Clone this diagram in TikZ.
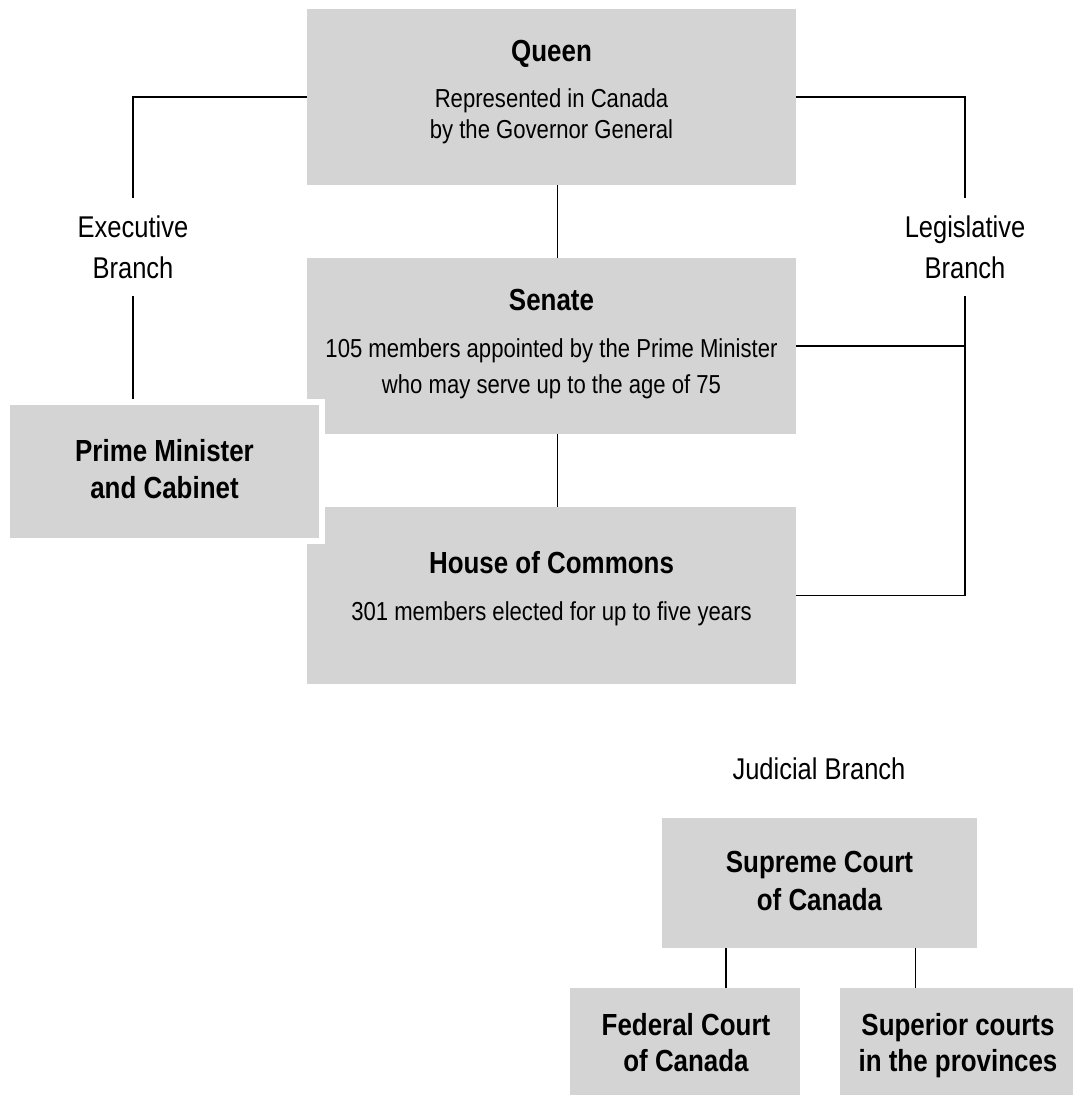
\documentclass[tikz,border=0pt]{standalone}
\usepackage{fontspec}
\setmainfont{Liberation Sans}
\newfontfamily\subfamily[FakeStretch=0.85]{Liberation Sans}
\newfontfamily\titlefamily[FakeStretch=0.85]{Liberation Sans}
\newfontfamily\labfamily[FakeStretch=0.85]{Liberation Sans}
\definecolor{boxgray}{RGB}{212,212,212}
\begin{document}
\begin{tikzpicture}[x=1pt,y=-1pt,
  box/.style={fill=boxgray, draw=none, inner sep=0, outer sep=0},
  subtxt/.style={font=\subfamily\fontsize{26}{30}\selectfont, anchor=base, inner sep=0},
  ttl/.style={font=\titlefamily\bfseries\fontsize{30.5}{35}\selectfont, anchor=base, inner sep=0},
  lab/.style={font=\labfamily\fontsize{30}{41}\selectfont, align=center, inner xsep=0, inner ysep=16.8pt},
  labone/.style={font=\labfamily\fontsize{30}{41}\selectfont, anchor=base, inner sep=0},
  conn/.style={draw=black, line width=1.3pt}
]
\useasboundingbox (0,0) rectangle (1073,1095);

% boxes
\node[box, minimum width=489pt, minimum height=176pt] (queen) at (551.5,97) {};
\node[box, minimum width=489pt, minimum height=176pt] (senate) at (551.5,346) {};
\node[box, minimum width=489pt, minimum height=177pt] (house) at (551.5,595.5) {};
\node[fill=boxgray, draw=white, line width=6pt, inner sep=0, minimum width=315pt, minimum height=139pt] (pm) at (164.5,471.5) {};
\node[box, minimum width=315pt, minimum height=130pt] (supreme) at (819.5,883) {};
\node[box, minimum width=230pt, minimum height=108pt] (federal) at (685,1042) {};
\node[box, minimum width=233pt, minimum height=108pt] (superior) at (956.5,1042) {};

% texts
\node[ttl] (qt) at (551.5,61) {Queen};
\node[subtxt] (qs1) at (551.5,107) {Represented in Canada};
\node[subtxt] (qs2) at (551.5,138) {by the Governor General};
\node[ttl] (st) at (551.5,310) {Senate};
\node[subtxt] (ss1) at (551.5,357) {105 members appointed by the Prime Minister};
\node[subtxt] (ss2) at (551.5,393) {who may serve up to the age of 75};
\node[ttl] (ht) at (551.5,573) {House of Commons};
\node[subtxt] (hs) at (551.5,620) {301 members elected for up to five years};
\node[ttl] (pt1) at (164.5,461.5) {Prime Minister};
\node[ttl] (pt2) at (164.5,498) {and Cabinet};
\node[labone] (jud) at (819,779) {Judicial Branch};
\node[ttl] (sc1) at (819.5,872) {Supreme Court};
\node[ttl] (sc2) at (819.5,910) {of Canada};
\node[ttl] (fc1) at (686,1035) {Federal Court};
\node[ttl] (fc2) at (686,1071) {of Canada};
\node[ttl] (pc1) at (958,1035) {Superior courts};
\node[ttl] (pc2) at (958,1071) {in the provinces};

% branch labels
\node[lab] (exec) at (133,247) {Executive\\Branch};
\node[lab] (leg) at (965,247) {Legislative\\Branch};

% connectors
\draw[conn] (queen.west) -| (exec.north);
\draw[conn] (exec.south) -- (exec.south |- pm.north);
\draw[conn] (queen.east) -| (leg.north);
\draw[conn] (senate.east) -- (senate.east -| leg.south);
\draw[conn] (leg.south) |- (house.east);
\draw[conn] ([xshift=6pt]queen.south) -- ([xshift=6pt]senate.north);
\draw[conn] ([xshift=6pt]senate.south) -- ([xshift=6pt]house.north);
\coordinate (fcTop) at ([xshift=41pt]federal.north);
\coordinate (pcTop) at ([xshift=-41pt]superior.north);
\draw[conn] (fcTop |- supreme.south) -- (fcTop);
\draw[conn] (pcTop |- supreme.south) -- (pcTop);
\end{tikzpicture}
\end{document}
